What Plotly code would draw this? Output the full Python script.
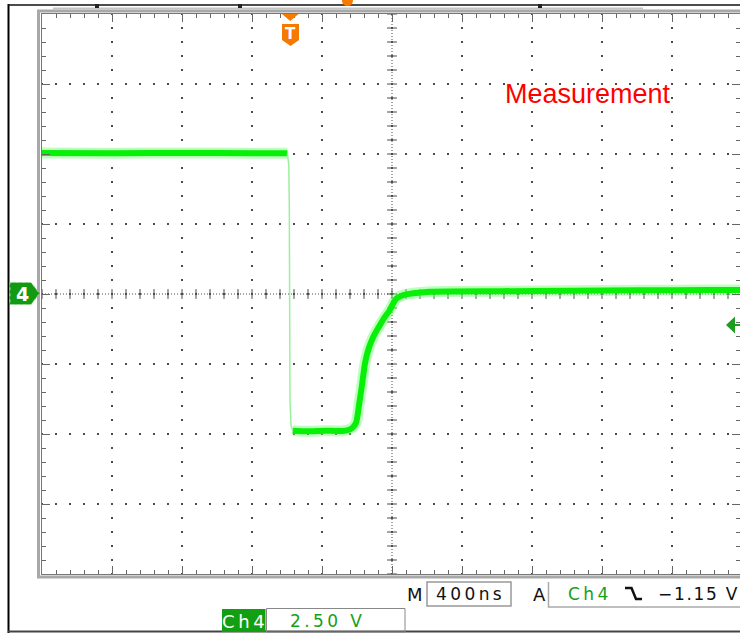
import plotly.graph_objects as go
import numpy as np

# ---------------- data ----------------
TIME_PER_DIV_NS = 400          # "M 400ns"
VOLTS_PER_DIV = 2.5            # "Ch4 2.50 V"
TRIGGER_LEVEL_V = -1.15        # "A Ch4 \ -1.15 V"
TIMEBASE_LABEL = "400ns"
SCALE_LABEL = "2.50 V"
TRIGGER_LABEL = "\u22121.15 V"
CHANNEL_LABEL = "Ch4"
NOTE_LABEL = "Measurement"

# waveform, time relative to trigger (ns), volts
high_t_ns = [-1420, -1000, -600, -200, -15]
high_v = [5.04, 5.03, 5.04, 5.03, 5.03]

edge_t_ns = [-15, -7, -4, -3, -2, 0, 6, 15]
edge_v = [5.03, 4.6, 3.2, 1.0, -1.5, -3.8, -4.7, -4.88]

after_t_ns = [15, 100, 200, 300, 352, 377, 396, 410, 429, 447, 476, 514, 543,
              571, 590, 610, 647, 800, 1200, 1600, 2000, 2400, 2580]
after_v = [-4.88, -4.90, -4.88, -4.89, -4.80, -4.61, -3.89, -3.31, -2.46, -2.00,
           -1.53, -1.11, -0.81, -0.57, -0.33, -0.15, -0.04, 0.08, 0.10, 0.12,
           0.13, 0.14, 0.14]

# ---------------- geometry ----------------
W, H = 740, 633
L, T, B = 42, 14, 59
PW, PH = W - L, H - T - B          # 698 x 560
DIV_PX = 70
TRIG_DIV_FROM_LEFT = (290 - L) / DIV_PX
x0 = -TRIG_DIV_FROM_LEFT * TIME_PER_DIV_NS
x1 = x0 + PW / DIV_PX * TIME_PER_DIV_NS
x_center = x0 + 5 * TIME_PER_DIV_NS
y0, y1 = -4 * VOLTS_PER_DIV, 4 * VOLTS_PER_DIV


def px(x):
    return (x - L) / PW


def py(y):
    return (T + PH - y) / PH


def path(points, close=True):
    s = "M " + " L ".join(f"{px(a):.5f},{py(b):.5f}" for a, b in points)
    return s + (" Z" if close else "")


GRID = "#4a4a4a"
TICK = "#666666"
SCOPE_FONT = "DejaVu Sans"
GREEN_TXT = "#16a016"
ORANGE = "#f47a00"
TS = "\u2009"
HS = "\u200a"


def spaced(s, sep=TS):
    return sep.join(list(s))


fig = go.Figure()

# centre-line cross bars (graticule decoration)
fig.add_trace(go.Scatter(
    x=[x_center] * 41, y=np.linspace(y0, y1, 41), mode="markers",
    marker=dict(symbol="line-ew", size=7, line=dict(width=1, color=GRID)),
    hoverinfo="skip", cliponaxis=True))
nx = int((x1 - x0) / (TIME_PER_DIV_NS / 5)) + 1
fig.add_trace(go.Scatter(
    x=x0 + np.arange(nx) * TIME_PER_DIV_NS / 5, y=[0] * nx, mode="markers",
    marker=dict(symbol="line-ns", size=7, line=dict(width=1, color=GRID)),
    hoverinfo="skip", cliponaxis=True))

# waveform
for t, v in ((high_t_ns, high_v), (after_t_ns, after_v)):
    fig.add_trace(go.Scatter(x=t, y=v, mode="lines",
                             line=dict(color="rgba(110,255,110,0.45)", width=11,
                                       shape="spline", smoothing=0.6),
                             hoverinfo="skip"))
for t, v in ((high_t_ns, high_v), (after_t_ns, after_v)):
    fig.add_trace(go.Scatter(x=t, y=v, mode="lines",
                             line=dict(color="#08f008", width=6, shape="spline", smoothing=0.6),
                             hoverinfo="skip"))
fig.add_trace(go.Scatter(x=edge_t_ns, y=edge_v, mode="lines",
                         line=dict(color="#9cf09c", width=1.5), hoverinfo="skip"))

shapes = []
# centre cross dotted lines
shapes.append(dict(type="line", xref="x", yref="paper", x0=x_center, x1=x_center,
                   y0=0, y1=1, line=dict(color=GRID, width=1, dash="1px,2px"), layer="below"))
shapes.append(dict(type="line", xref="paper", yref="y", x0=0, x1=1, y0=0, y1=0,
                   line=dict(color=GRID, width=1, dash="1px,2px"), layer="below"))
# graticule frame
shapes.append(dict(type="rect", xref="paper", yref="paper",
                   x0=px(38.5), x1=px(746), y0=py(11), y1=py(577),
                   line=dict(color="#a8a8a8", width=3)))
# screenshot borders
shapes.append(dict(type="line", xref="paper", yref="paper", x0=px(8.5), x1=px(8.5),
                   y0=py(4), y1=py(633), line=dict(color="#000", width=2)))
shapes.append(dict(type="line", xref="paper", yref="paper", x0=px(8), x1=px(741),
                   y0=py(631.5), y1=py(631.5), line=dict(color="#444", width=2)))
shapes.append(dict(type="line", xref="paper", yref="paper", x0=px(8), x1=px(741),
                   y0=py(5), y1=py(5), line=dict(color="#111", width=1.5)))
shapes.append(dict(type="line", xref="paper", yref="paper", x0=px(53), x1=px(643),
                   y0=py(8.5), y1=py(8.5), line=dict(color="#c4c4c4", width=2)))
for sx in (97, 240, 540):
    shapes.append(dict(type="rect", xref="paper", yref="paper", x0=px(sx - 2), x1=px(sx + 2),
                       y0=py(4), y1=py(8), fillcolor="#222", line=dict(width=0)))
shapes.append(dict(type="circle", xref="paper", yref="paper", x0=px(342), x1=px(353),
                   y0=py(-5), y1=py(6), fillcolor=ORANGE, line=dict(width=0)))
# channel 4 ground marker
shapes.append(dict(type="path", xref="paper", yref="paper",
                   path=path([(10, 282.5), (31, 282.5), (39.5, 293.5), (31, 304.5), (10, 304.5)]),
                   fillcolor="#139a13", line=dict(color="#9ad89a", width=1, dash="dot")))
# trigger position marker
shapes.append(dict(type="path", xref="paper", yref="paper",
                   path=path([(282, 14), (298.5, 14), (290.2, 21)]),
                   fillcolor=ORANGE, line=dict(width=0)))
shapes.append(dict(type="path", xref="paper", yref="paper",
                   path=path([(282, 24), (299, 24), (299, 40), (290.5, 46), (282, 40)]),
                   fillcolor=ORANGE, line=dict(width=0)))
# trigger level marker
shapes.append(dict(type="path", xref="paper", yref="paper",
                   path=path([(726, 325), (735, 316.5), (735, 333.5)]),
                   fillcolor="#1e9e1e", line=dict(width=0)))
shapes.append(dict(type="line", xref="paper", yref="paper", x0=px(734), x1=px(741),
                   y0=py(325), y1=py(325), line=dict(color="#1e9e1e", width=2)))
# bottom readouts
shapes.append(dict(type="rect", xref="paper", yref="paper", x0=px(222), x1=px(265.5),
                   y0=py(609), y1=py(632), fillcolor="#12a012", line=dict(width=0)))
shapes.append(dict(type="rect", xref="paper", yref="paper", x0=px(266.5), x1=px(405),
                   y0=py(608.5), y1=py(632), line=dict(color="#888", width=1)))
shapes.append(dict(type="rect", xref="paper", yref="paper", x0=px(427), x1=px(511),
                   y0=py(582), y1=py(606), line=dict(color="#999", width=1.5)))
shapes.append(dict(type="path", xref="paper", yref="paper",
                   path=path([(548.5, 582), (548.5, 607), (742, 607)], close=False),
                   line=dict(color="#aaa", width=1.5)))
shapes.append(dict(type="path", xref="paper", yref="paper",
                   path=path([(625, 588), (631.5, 588), (636, 599), (642, 599)], close=False),
                   line=dict(color="#111", width=2.5)))

ann = []


def text(x, y, s, size, color, xanchor="center", family=SCOPE_FONT, bold=False):
    ann.append(dict(x=px(x), y=py(y), xref="paper", yref="paper", text=s, showarrow=False,
                    xanchor=xanchor, yanchor="middle",
                    font=dict(family=family, size=size, color=color,
                              weight="bold" if bold else "normal")))


text(587.5, 94, NOTE_LABEL, 27, "#ff0000", family="Liberation Sans")
text(22, 294, "4", 19, "#ffffff", bold=True)
text(290.5, 34, "T", 15, "#ffffff", bold=True)
text(243.5, 621, spaced(CHANNEL_LABEL), 18, "#ffffff")
text(326, 621, spaced(SCALE_LABEL), 17, GREEN_TXT)
text(415, 594, "M", 18, "#111")
text(469, 594, spaced(TIMEBASE_LABEL), 17, "#111")
text(539, 594, "A", 18, "#111")
text(587.5, 594, spaced(CHANNEL_LABEL), 17, GREEN_TXT)
text(656, 594, spaced(TRIGGER_LABEL, HS), 17, "#111", xanchor="left")

axis_common = dict(showticklabels=False, zeroline=False, showline=True,
                   linecolor="#777", linewidth=1, mirror="ticks",
                   ticks="inside", ticklen=8, tickwidth=1, tickcolor=TICK,
                   showgrid=True, gridcolor=GRID, gridwidth=2,
                   griddash="1px,12px,1px,0px", fixedrange=True)

fig.update_layout(
    width=W, height=H,
    margin=dict(l=L, r=0, t=T, b=B, pad=0),
    paper_bgcolor="white", plot_bgcolor="white",
    showlegend=False, hovermode=False,
    xaxis=dict(range=[x0, x1], tick0=x_center, dtick=TIME_PER_DIV_NS,
               minor=dict(ticks="inside", ticklen=4, tickcolor=TICK,
                          dtick=TIME_PER_DIV_NS / 5, tick0=x_center, showgrid=False),
               **axis_common),
    yaxis=dict(range=[y0, y1], tick0=0, dtick=VOLTS_PER_DIV,
               minor=dict(ticks="inside", ticklen=4, tickcolor=TICK,
                          dtick=VOLTS_PER_DIV / 5, tick0=0, showgrid=False),
               **axis_common),
    shapes=shapes, annotations=ann,
)

fig.write_html("out.html", config={"displayModeBar": False},
               post_script="document.body.style.margin='0';document.body.style.overflow='hidden';")
